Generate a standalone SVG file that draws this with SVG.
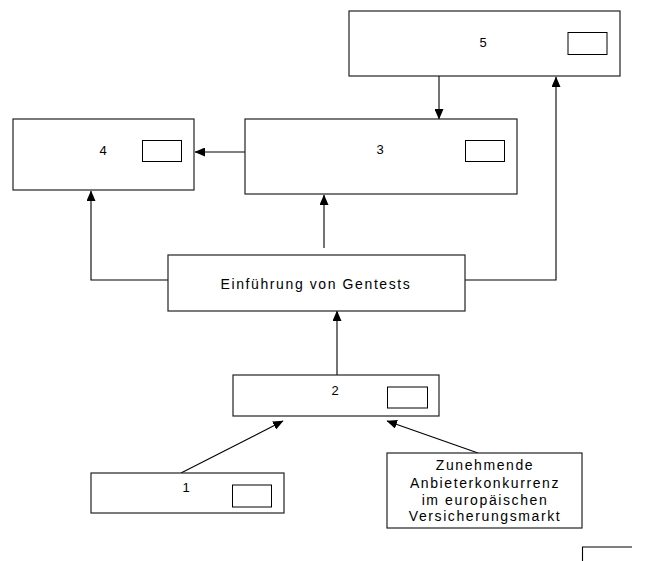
<svg xmlns="http://www.w3.org/2000/svg" width="645" height="561" viewBox="0 0 645 561">
<style>
.box{fill:#fff;stroke:#222;stroke-width:1.2}
.sm{fill:#fff;stroke:#000;stroke-width:1}
.t{font-family:"Liberation Sans",Arial,sans-serif;font-size:13px;fill:#000;text-anchor:middle;dominant-baseline:central}
.ts{font-size:14px;letter-spacing:1.6px}
.c{fill:none;stroke:#000;stroke-width:1.1}
</style>
<defs>
<marker id="ah" markerWidth="11" markerHeight="9" refX="10" refY="4.5" orient="auto" markerUnits="userSpaceOnUse">
<path d="M0,0 L10.5,4.5 L0,9 Z" fill="#000"/>
</marker>
</defs>
<rect width="645" height="561" fill="#fff"/>
<g id="connectors">
<line class="c" x1="439" y1="76" x2="439" y2="119" marker-end="url(#ah)"/>
<line class="c" x1="245" y1="152" x2="195" y2="152" marker-end="url(#ah)"/>
<line class="c" x1="324" y1="248" x2="324" y2="195" marker-end="url(#ah)"/>
<polyline class="c" points="168,280 91,280 91,191" marker-end="url(#ah)"/>
<polyline class="c" points="465,280 556,280 556,77" marker-end="url(#ah)"/>
<line class="c" x1="337" y1="375" x2="337" y2="311" marker-end="url(#ah)"/>
<line class="c" x1="181" y1="473" x2="283" y2="421" marker-end="url(#ah)"/>
<line class="c" x1="478" y1="453" x2="387" y2="421" marker-end="url(#ah)"/>
</g>
<g id="node5">
<rect class="box" x="349" y="11" width="271" height="65"/>
<text class="t" x="483" y="42">5</text>
<rect class="sm" x="568" y="32.5" width="39" height="22"/>
</g>
<g id="node4">
<rect class="box" x="13" y="119" width="181" height="71"/>
<text class="t" x="103" y="150">4</text>
<rect class="sm" x="142.5" y="140.5" width="39" height="21"/>
</g>
<g id="node3">
<rect class="box" x="245" y="119" width="272" height="75"/>
<text class="t" x="380" y="149">3</text>
<rect class="sm" x="465.5" y="140.5" width="39" height="21"/>
</g>
<g id="nodeE">
<rect class="box" x="168" y="255" width="297" height="56"/>
<text class="t ts" x="316" y="284">Einführung von Gentests</text>
</g>
<g id="node2">
<rect class="box" x="233" y="375" width="206" height="41"/>
<text class="t" x="335" y="390">2</text>
<rect class="sm" x="387.5" y="387" width="40" height="21"/>
</g>
<g id="node1">
<rect class="box" x="91" y="473" width="193" height="40"/>
<text class="t" x="186" y="487">1</text>
<rect class="sm" x="232.5" y="485" width="39" height="22"/>
</g>
<g id="nodeZ">
<rect class="box" x="387" y="453" width="195" height="75"/>
<text class="t ts" x="485" y="465">Zunehmende</text>
<text class="t ts" x="485" y="483">Anbieterkonkurrenz</text>
<text class="t ts" x="485" y="500">im europäischen</text>
<text class="t ts" x="485" y="516">Versicherungsmarkt</text>
</g>
<g id="corner">
<polyline class="c" points="582.5,561 582.5,547 632,547"/>
</g>
</svg>
